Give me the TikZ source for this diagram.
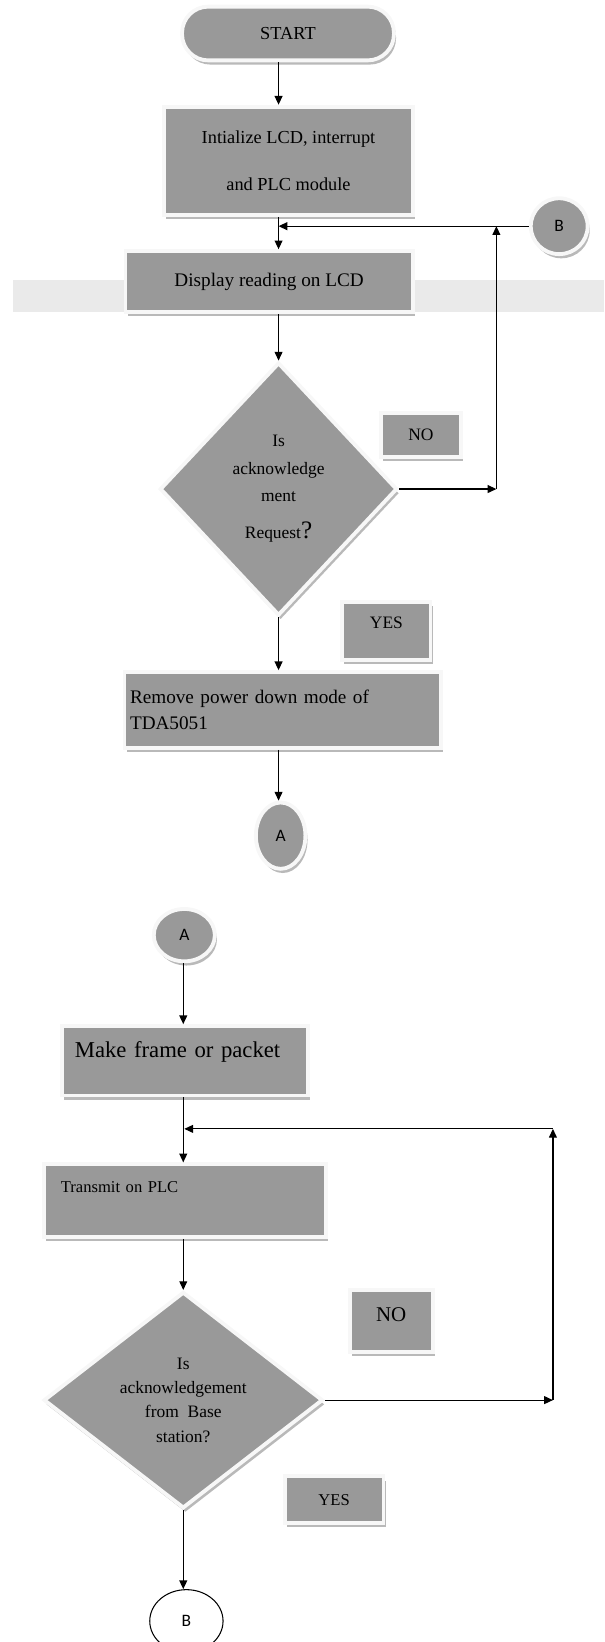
\documentclass[tikz,border=0pt]{standalone}
\usepackage{xcolor}
\usepackage{fontspec}
\setmainfont{Liberation Serif}
\newfontfamily\carlito{Carlito}
\usepackage{tikz}
\usetikzlibrary{shapes.geometric, shadows, arrows.meta}

\definecolor{boxgray}{RGB}{153,153,153}
\definecolor{bandgray}{RGB}{234,234,234}

\begin{document}
\begin{tikzpicture}[
    x = 0.6pt, y = -0.6pt,
    ring/.style = {
        fill=boxgray, draw=gray!6, line width=2.2pt,
        drop shadow={shadow xshift=1.2pt, shadow yshift=-2.4pt, fill=gray!55, opacity=1}
    },
    box/.style = {ring, rectangle, inner sep=3pt},
    term/.style = {ring, rectangle, rounded corners=15pt},
    decision/.style = {ring, diamond, inner sep=0pt, align=center},
    conn/.style = {ring, ellipse, inner sep=0pt, font=\carlito\fontsize{10}{12}\selectfont},
    tag/.style = {box, font=\fontsize{10}{12}\selectfont},
    arr/.style = {-{Triangle[length=5pt, width=4.5pt]}, line width=0.7pt}
  ]
    \useasboundingbox (0,0) rectangle (577,1568);
    \fill[bandgray] (12,267) rectangle (577,298);  % 背景条

    % 第一部分
    \node[term, minimum width=121.4pt, minimum height=30.8pt, font=\fontsize{10.5}{12}\selectfont] (start) at (275,32) {START};  % 开始
    \node[box, minimum width=142.4pt, minimum height=62pt, align=center, font=\fontsize{10.5}{27}\selectfont] (init) at (275.5,153.5) {Intialize LCD, interrupt\\and PLC module};  % 初始化
    \node[box, minimum width=164.6pt, minimum height=35pt, font=\fontsize{11}{13}\selectfont] (disp) at (257,269) {Display reading on LCD};  % 显示
    \node[decision, minimum width=136pt, minimum height=145pt, font=\fontsize{10}{15.6}\selectfont] (d1) at (266,467) {Is\\acknowledge\\ment\\[6pt]Request{\Large ?}};  % 判断1
    \node[tag, minimum width=46pt, minimum height=25pt] (no1) at (402,415.5) {NO};
    \node[tag, minimum width=50.6pt, minimum height=33pt, text height=7pt, text depth=10pt] (yes1) at (369,602.5) {YES};
    \node[box, minimum width=181.4pt, minimum height=43.4pt, text width=175pt, align=left, font=\fontsize{11}{15}\selectfont] (rem) at (270,678) {Remove power down mode of\\TDA5051};  % 退出掉电模式
    \node[conn, minimum width=28.4pt, minimum height=38pt] (a1) at (268,798) {A};
    \node[conn, minimum width=32.6pt, minimum height=32pt] (b1) at (534,216) {B};
    \coordinate (n1) at (474,467);

    \draw[arr] (start.south -| d1) -- (init.north -| d1);
    \draw[arr] (init.south -| d1) -- (disp.north -| d1);
    \draw[arr] (disp.south -| d1) -- (d1.north);
    \draw[arr] (d1.south) -- (rem.north -| d1);
    \draw[arr] (rem.south -| d1) -- (a1.north -| d1);
    \draw[arr] (d1.east) -- (n1);
    \draw[arr] (n1) -- (n1 |- b1.west);
    \draw[arr] (b1.west) -- (b1.west -| d1);

    % 第二部分
    \node[conn, minimum width=35pt, minimum height=30pt] (a2) at (176,893) {A};
    \node[box, minimum width=141.2pt, minimum height=39.8pt, text width=132pt, inner xsep=4.6pt, align=left, text height=10pt, text depth=14.2pt, font=\fontsize{13}{15}\selectfont] (make) at (176.5,1013) {\hspace{3pt}Make frame or packet};  % 组帧
    \node[box, minimum width=161.6pt, minimum height=41.6pt, text width=142pt, inner xsep=9.8pt, align=left, text height=7pt, text depth=16pt, font=\fontsize{9.5}{11}\selectfont] (trans) at (176.5,1146.5) {Transmit on PLC};  % 发送
    \node[decision, minimum width=160pt, minimum height=124pt, aspect=1.3, font=\fontsize{10}{14}\selectfont] (d2) at (175,1337) {Is\\acknowledgement\\from\ \ Base\\station?};  % 判断2
    \node[tag, minimum width=47.6pt, minimum height=35.6pt, text height=8.5pt, text depth=8.1pt, font=\fontsize{12}{14}\selectfont] (no2) at (373.5,1261.5) {NO};
    \node[tag, minimum width=56.6pt, minimum height=26.6pt, font=\fontsize{9.5}{11}\selectfont] (yes2) at (319,1432) {YES};
    \node[ellipse, draw, line width=0.6pt, fill=white, inner sep=0pt, minimum width=42pt, minimum height=36pt, font=\carlito\fontsize{10}{12}\selectfont] (b2) at (178,1548) {B};
    \coordinate (n2) at (528,1337);
    \coordinate (j2) at (176,1078);

    \draw[arr] (a2.south -| d2) -- (make.north -| d2);
    \draw[arr] (make.south -| d2) -- (trans.north -| d2);
    \draw[arr] (trans.south -| d2) -- (d2.north);
    \draw[arr] (d2.south) -- (b2.north -| d2);
    \draw[arr] (d2.east) -- (n2);
    \draw[arr] (n2) -- (n2 |- j2);
    \draw[arr] (n2 |- j2) -- (j2);
\end{tikzpicture}
\end{document}
